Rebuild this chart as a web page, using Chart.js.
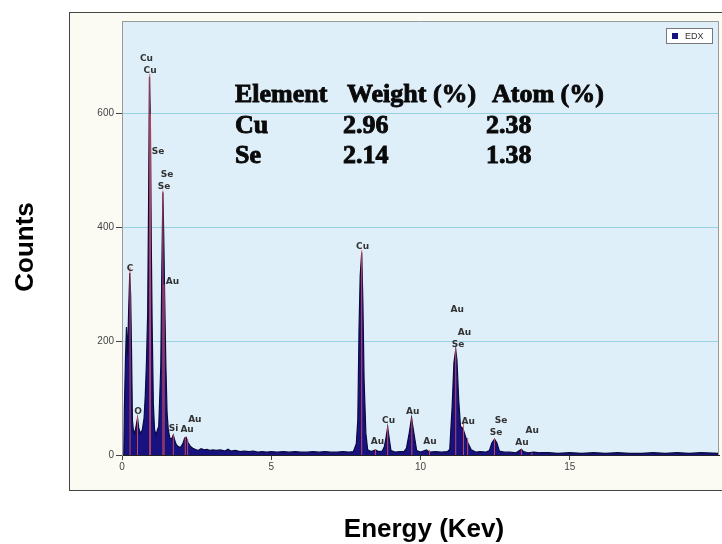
<!DOCTYPE html>
<html><head><meta charset="utf-8">
<script src="https://cdn.jsdelivr.net/npm/chart.js@4.4.1/dist/chart.umd.min.js"></script>
<style>html,body{margin:0;padding:0;background:#fff;}#wrap{width:722px;height:544px;position:relative;}</style>
</head><body><div id="wrap"><canvas id="c" width="722" height="544"></canvas></div>
<script>
// ---- data ----
const energy = [0.00,0.06,0.08,0.12,0.15,0.19,0.22,0.26,0.29,0.32,0.35,0.38,0.42,0.47,0.52,0.56,0.61,0.68,0.74,0.78,0.82,0.86,0.89,0.92,0.95,0.98,1.01,1.05,1.09,1.14,1.19,1.23,1.27,1.30,1.33,1.37,1.40,1.43,1.47,1.51,1.55,1.60,1.66,1.72,1.77,1.82,1.90,1.97,2.04,2.10,2.15,2.21,2.28,2.37,2.45,2.55,2.65,2.75,2.85,2.95,3.05,3.15,3.30,3.45,3.55,3.65,3.80,3.95,4.10,4.25,4.40,4.55,4.70,4.85,5.00,5.20,5.40,5.60,5.80,6.00,6.20,6.40,6.60,6.80,7.00,7.20,7.40,7.60,7.75,7.85,7.90,7.94,7.98,8.03,8.07,8.11,8.17,8.23,8.35,8.49,8.60,8.72,8.79,8.84,8.90,8.96,9.01,9.15,9.30,9.45,9.53,9.62,9.70,9.78,9.87,10.00,10.20,10.30,10.50,10.70,10.90,10.98,11.06,11.12,11.18,11.22,11.28,11.34,11.42,11.51,11.59,11.70,11.85,12.00,12.20,12.31,12.39,12.48,12.56,12.64,12.80,13.00,13.20,13.38,13.45,13.60,13.80,14.00,14.30,14.60,15.00,15.40,15.80,16.20,16.60,17.00,17.40,17.80,18.20,18.60,19.00,19.40,20.00];
const counts = [0,0,83,175,225,175,250,320,281,180,60,44,38,50,65,48,38,44,65,105,163,250,440,665,595,376,230,90,45,35,45,50,110,157,310,462,380,275,157,74,45,30,28,35,25,18,14,14,20,30,31,22,16,12,10,8,11,9,10,8,9,8,9,7,10,7,8,6,7,6,7,5,6,5,6,5,6,5,6,5,5,6,5,6,5,5,6,5,6,20,62,220,315,356,268,132,38,9,6,9,6,7,15,29,49,26,8,5,6,6,12,38,65,38,8,5,9,5,6,5,6,10,85,162,185,168,97,50,47,32,21,9,5,6,5,8,21,28,21,7,5,5,4,10,6,4,5,4,4,3,4,3,4,3,4,3,3,4,3,4,3,4,3];
const markerEnergy = [0.27,0.52,0.93,0.95,1.37,1.41,1.72,2.12,2.20,8.03,8.49,8.90,9.71,10.30,11.18,11.44,11.58,12.48,13.38,13.73];
const markerCounts = [330,68,670,600,465,300,36,32,28,360,10,50,66,9,188,60,30,29,10,4];
const peakLabelText = ['Cu','Cu','Se','Se','Se','Au','C','O','Si','Au','Au','Cu','Au','Cu','Au','Au','Au','Au','Se','Au','Se','Se','Au','Au'];
const peakLabelEnergy = [0.82,0.94,1.21,1.51,1.41,1.69,0.27,0.54,1.73,2.18,2.44,8.06,8.56,8.93,9.74,10.32,11.23,11.47,11.26,11.60,12.70,12.53,13.40,13.74];
const peakLabelCounts = [697,676,533,493,472,304,327,77,47,44,63,367,23,61,77,23,255,215,194,59,60,40,22,42];
const tableHeader = ['Element','Weight (%)','Atom (%)'];
const tableElements = ['Cu','Se'];
const tableWeight = ['2.96','2.14'];
const tableAtom = ['2.38','1.38'];
const xTicks = [0,5,10,15];
const yTicks = [0,200,400,600];
const seriesName = 'EDX';
const xTitle = 'Energy (Kev)';
const yTitle = 'Counts';

// ---- build datasets ----
const spectrum = energy.map((e,i)=>({x:e,y:counts[i]}));
const markers = [];
markerEnergy.forEach((e,i)=>{ markers.push({x:e,y:0},{x:e,y:markerCounts[i]},{x:e,y:null}); });

const NAVY = '#17127f';

function boldText(ctx,t,x,y){ ctx.fillText(t,x,y); ctx.strokeText(t,x,y); }

const decor = {
  id:'decor',
  beforeDraw(chart){
    const ctx = chart.ctx, a = chart.chartArea;
    ctx.save();
    ctx.fillStyle = '#ffffff';
    ctx.fillRect(0,0,chart.width,chart.height);
    ctx.fillStyle = '#fbfbf4';
    ctx.fillRect(69.5,12.5,700,478);
    ctx.strokeStyle = '#444';
    ctx.lineWidth = 1;
    ctx.strokeRect(69.5,12.5,700,478);
    ctx.fillStyle = '#dfeffa';
    ctx.fillRect(a.left,a.top,a.right-a.left,a.bottom-a.top);
    ctx.restore();
  },
  afterDatasetsDraw(chart){
    const ctx = chart.ctx, a = chart.chartArea;
    const xs = chart.scales.x, ys = chart.scales.y;
    ctx.save();
    ctx.strokeStyle = '#9a9a9a';
    ctx.lineWidth = 1;
    ctx.beginPath();
    ctx.moveTo(a.left+0.5,a.bottom); ctx.lineTo(a.left+0.5,a.top+0.5);
    ctx.lineTo(a.right-0.5,a.top+0.5); ctx.lineTo(a.right-0.5,a.bottom);
    ctx.stroke();
    // peak labels
    ctx.fillStyle = '#333';
    ctx.font = 'bold 9px "DejaVu Sans"';
    ctx.textAlign = 'center';
    ctx.textBaseline = 'middle';
    peakLabelText.forEach((t,i)=>{
      ctx.fillText(t, xs.getPixelForValue(peakLabelEnergy[i]), ys.getPixelForValue(peakLabelCounts[i]));
    });
    // composition table
    ctx.fillStyle = '#0a0a0a';
    ctx.strokeStyle = '#0a0a0a';
    ctx.lineWidth = 0.9;
    ctx.font = 'bold 26px "Liberation Serif", "Times New Roman", serif';
    ctx.textAlign = 'left';
    ctx.textBaseline = 'alphabetic';
    const hx = [235,347,492];
    tableHeader.forEach((t,i)=>boldText(ctx,t,hx[i],102));
    const rowY = [133,163];
    tableElements.forEach((t,i)=>{
      boldText(ctx,t,235,rowY[i]);
      boldText(ctx,tableWeight[i],343,rowY[i]);
      boldText(ctx,tableAtom[i],486,rowY[i]);
    });
    // legend
    ctx.lineWidth = 1;
    ctx.fillStyle = '#ffffff';
    ctx.fillRect(666.5,28.5,46,15);
    ctx.strokeStyle = '#777';
    ctx.strokeRect(666.5,28.5,46,15);
    ctx.fillStyle = NAVY;
    ctx.fillRect(672,33,6,6);
    ctx.fillStyle = '#333';
    ctx.font = '9px "Liberation Sans"';
    ctx.textBaseline = 'middle';
    ctx.fillText(seriesName,685,36.5);
    // axis titles
    ctx.fillStyle = '#000';
    ctx.font = 'bold 26px "Liberation Sans"';
    ctx.textAlign = 'center';
    ctx.textBaseline = 'alphabetic';
    ctx.fillText(xTitle,424,537);
    ctx.translate(33,247);
    ctx.rotate(-Math.PI/2);
    ctx.fillText(yTitle,0,0);
    ctx.restore();
  }
};

new Chart(document.getElementById('c'),{
  type:'line',
  data:{datasets:[
    {label:'markers',data:markers,borderColor:'rgba(215,80,90,0.9)',borderWidth:1,pointRadius:0,fill:false,spanGaps:false,order:0},
    {label:seriesName,data:spectrum,borderColor:'#0b0a40',backgroundColor:NAVY,borderWidth:1.2,pointRadius:0,fill:'origin',tension:0,order:1}
  ]},
  options:{
    responsive:false,animation:false,devicePixelRatio:1,
    layout:{padding:{left:0,top:21,right:3,bottom:0}},
    plugins:{legend:{display:false},tooltip:{enabled:false}},
    scales:{
      x:{type:'linear',min:0,max:20,
        afterFit(s){s.height=89;},
        afterBuildTicks(s){s.ticks=xTicks.map(v=>({value:v}));},
        grid:{drawOnChartArea:false,tickLength:5,tickColor:'#444'},
        border:{color:'#222',width:1},
        ticks:{font:{family:'Liberation Sans',size:10},color:'#444',padding:1,maxRotation:0}
      },
      y:{type:'linear',min:0,max:763,
        afterFit(s){s.width=122;},
        afterBuildTicks(s){s.ticks=yTicks.map(v=>({value:v}));},
        grid:{color:(c)=>c.tick&&c.tick.value===0?'rgba(0,0,0,0)':'#96d2df',tickColor:'#444',tickLength:6},
        border:{color:'#9a9a9a',width:1},
        ticks:{font:{family:'Liberation Sans',size:10},color:'#444',padding:2}
      }
    }
  },
  plugins:[decor]
});
</script></body></html>
